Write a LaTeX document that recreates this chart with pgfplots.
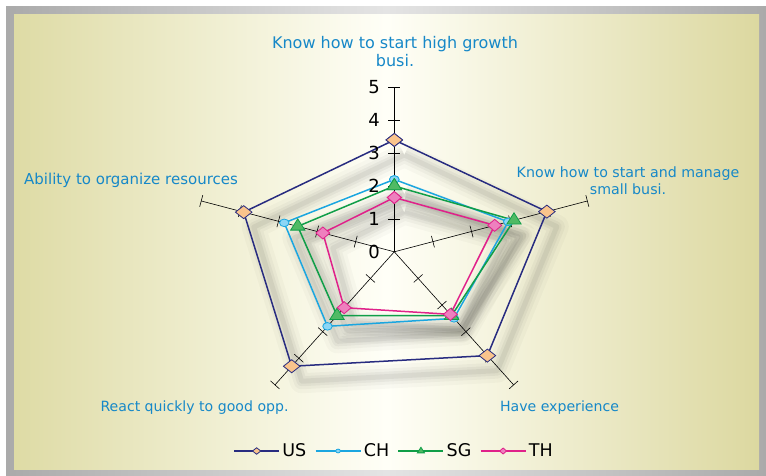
\documentclass[border=0pt]{standalone}
\usepackage{pgfplots}
\pgfplotsset{compat=1.18}
\usepackage{pgfplotstable}
\usepackage{fontspec}
\setmainfont{DejaVu Sans}
\definecolor{usc}{RGB}{40,44,128}
\definecolor{usfill}{RGB}{250,196,140}
\definecolor{chc}{RGB}{27,166,224}
\definecolor{chfill}{RGB}{140,214,245}
\definecolor{sgc}{RGB}{16,158,72}
\definecolor{sgfill}{RGB}{80,186,100}
\definecolor{thc}{RGB}{224,33,138}
\definecolor{thfill}{RGB}{238,128,190}
\definecolor{labc}{RGB}{22,136,200}
\definecolor{khaki}{RGB}{222,219,165}
\definecolor{khakir}{RGB}{220,216,160}
\definecolor{frameg}{RGB}{170,170,170}
\definecolor{framel}{RGB}{228,228,228}
\pgfplotstableread{
a   US   CH   SG   TH
0   3.4  2.2  2.0  1.65
72  3.95 2.95 3.1  2.6
144 3.9  2.5  2.4  2.35
216 4.3  2.8  2.4  2.1
288 3.9  2.85 2.5  1.85
360 3.4  2.2  2.0  1.65
}\data
\begin{document}
\begin{tikzpicture}[x=1pt,y=1pt]
% page and frame
\fill[white] (0,0) rectangle (766,475);
\shade[left color=frameg, right color=frameg, middle color=framel] (6,0) rectangle (766,468);
\shade[left color=khaki, right color=khakir, middle color={white!97!yellow}] (14,6) rectangle (759,460);
\begin{axis}[
  at={(394.3pt,223.2pt)}, anchor=origin,
  x=40.6pt, y=32.9pt,
  xmin=-5.5, xmax=5.5, ymin=-6.5, ymax=5.5,
  hide axis, clip=false,
  legend columns=-1,
  legend style={at={(0.5,0.0371)}, anchor=center, draw=none, fill=none,
    font=\fontsize{17.5}{20}\selectfont, nodes={inner sep=2.5pt},
    /tikz/every even column/.append style={column sep=6pt}},
  legend image code/.code={\draw[#1, mark repeat=2, mark phase=2, every mark/.append style={scale=0.5}] plot coordinates {(0pt,0pt) (22.5pt,0pt) (45pt,0pt)};},
]
% shadows
\pgfplotsinvokeforeach{US,CH,SG,TH}{
  \addplot[forget plot, draw=black, opacity=0.022, line width=24pt, line join=round, xshift=10pt, yshift=-15pt]
    table[x expr={\thisrow{#1}*sin(\thisrow{a})}, y expr={\thisrow{#1}*cos(\thisrow{a})}] {\data};
  \addplot[forget plot, draw=black, opacity=0.03, line width=16pt, line join=round, xshift=10pt, yshift=-15pt]
    table[x expr={\thisrow{#1}*sin(\thisrow{a})}, y expr={\thisrow{#1}*cos(\thisrow{a})}] {\data};
  \addplot[forget plot, draw=black, opacity=0.04, line width=10pt, line join=round, xshift=10pt, yshift=-15pt]
    table[x expr={\thisrow{#1}*sin(\thisrow{a})}, y expr={\thisrow{#1}*cos(\thisrow{a})}] {\data};
  \addplot[forget plot, draw=black, opacity=0.05, line width=5pt, line join=round, xshift=10pt, yshift=-15pt]
    table[x expr={\thisrow{#1}*sin(\thisrow{a})}, y expr={\thisrow{#1}*cos(\thisrow{a})}] {\data};
}
% spokes and ticks
\pgfplotsinvokeforeach{0,72,144,216,288}{
  \draw[line width=0.6pt, black] (axis cs:0,0) -- (axis cs:{5*sin(#1)},{5*cos(#1)});
  \draw[line width=0.6pt, black] \foreach \v in {1,...,5} {(axis cs:{\v*sin(#1)},{\v*cos(#1)}) ++({atan2(32.9*cos(#1),40.6*sin(#1))+90}:6pt) -- ++({atan2(32.9*cos(#1),40.6*sin(#1))-90}:12pt)};
}
% series
\addplot[usc, line width=1.5pt, mark=diamond*, mark size=6.5pt,
  mark options={xscale=1.7, fill=usfill, draw=usc, line width=0.8pt}]
  table[x expr={\thisrow{US}*sin(\thisrow{a})}, y expr={\thisrow{US}*cos(\thisrow{a})}] {\data};
\addlegendentry{US}
\addplot[chc, line width=1.5pt, mark=*, mark size=3.8pt,
  mark options={xscale=1.25, fill=chfill, draw=chc, line width=0.8pt}]
  table[x expr={\thisrow{CH}*sin(\thisrow{a})}, y expr={\thisrow{CH}*cos(\thisrow{a})}] {\data};
\addlegendentry{CH}
\addplot[sgc, line width=1.5pt, mark=triangle*, mark size=7.5pt,
  mark options={xscale=1.1, fill=sgfill, draw=sgc, line width=0.8pt}]
  table[x expr={\thisrow{SG}*sin(\thisrow{a})}, y expr={\thisrow{SG}*cos(\thisrow{a})}] {\data};
\addlegendentry{SG}
\addplot[thc, line width=1.5pt, mark=diamond*, mark size=6pt,
  mark options={xscale=1.55, fill=thfill, draw=thc, line width=0.8pt}]
  table[x expr={\thisrow{TH}*sin(\thisrow{a})}, y expr={\thisrow{TH}*cos(\thisrow{a})}] {\data};
\addlegendentry{TH}
\end{axis}
% tick labels
\foreach \k in {0,...,5} {
  \node[anchor=east, inner sep=0pt, font=\fontsize{18}{20}\selectfont] at (380,{223.2+32.9*\k}) {\k};
}
% category labels
\begin{scope}[every node/.style={inner sep=0pt, text=labc}]
\node[anchor=base, font=\fontsize{16}{19}\selectfont] at (395,426) {Know how to start high growth};
\node[anchor=base, font=\fontsize{16}{19}\selectfont] at (395,408.3) {busi.};
\node[anchor=base, font=\fontsize{14.2}{17}\selectfont] at (628,297.7) {Know how to start and manage};
\node[anchor=base, font=\fontsize{14.2}{17}\selectfont] at (628,281) {small busi.};
\node[anchor=base west, font=\fontsize{15}{17}\selectfont] at (24,290.7) {Ability to organize resources};
\node[anchor=base, font=\fontsize{14.1}{17}\selectfont] at (194.5,63.3) {React quickly to good opp.};
\node[anchor=base, font=\fontsize{14.1}{17}\selectfont] at (559.5,63.3) {Have experience};
\end{scope}
\end{tikzpicture}
\end{document}
